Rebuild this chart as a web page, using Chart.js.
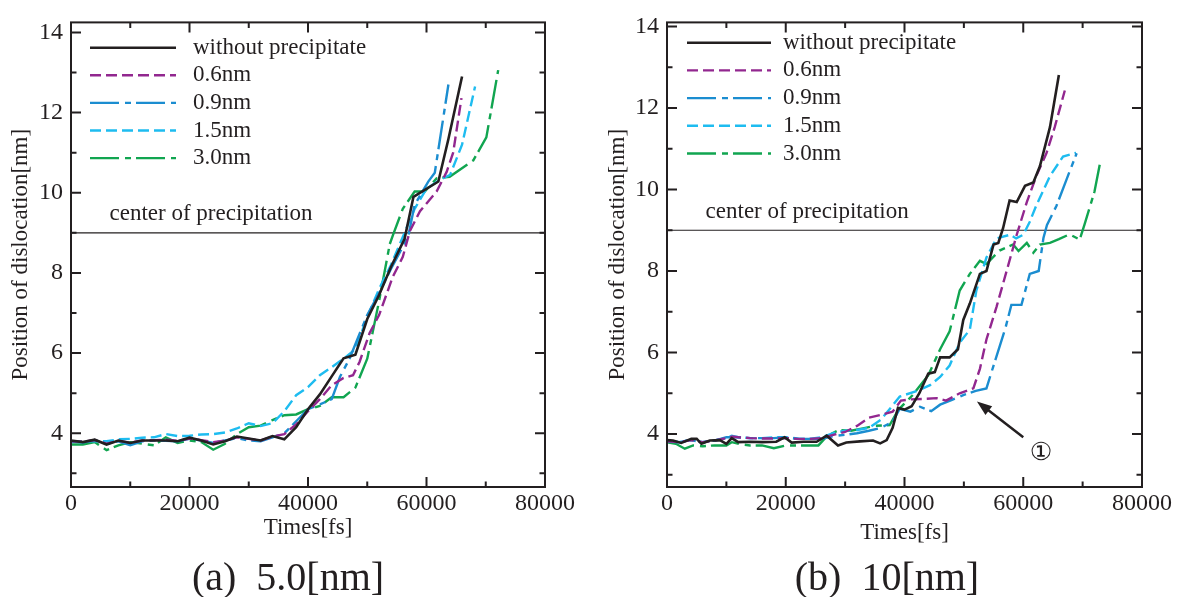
<!DOCTYPE html>
<html>
<head>
<meta charset="utf-8">
<title>Position of dislocation</title>
<script src="https://cdn.jsdelivr.net/npm/chart.js@4.4.1/dist/chart.umd.min.js"></script>
<style>
    body { margin: 0; background: #fff; width: 1181px; height: 597px; overflow: hidden; position: relative; }
    .panel { position: absolute; top: 0; height: 597px; }
    #panelA { left: 0; width: 590px; }
    #panelB { left: 590px; width: 591px; }
    .caption {
        position: absolute; top: 555px; line-height: 44px; font-size: 40px;
        font-family: "Liberation Serif", serif; color: #231f20;
        white-space: pre; transform: translateX(-50%);
    }
</style>
</head>
<body>
<div class="panel" id="panelA"><canvas id="chartA" width="590" height="597"></canvas></div>
<div class="panel" id="panelB"><canvas id="chartB" width="591" height="597"></canvas></div>
<div class="caption" style="left:288px">(a)  5.0[nm]</div>
<div class="caption" style="left:887px">(b)  10[nm]</div>

<script>
// 공통 데이터
const seriesNames = ['without precipitate', '0.6nm', '0.9nm', '1.5nm', '3.0nm'];
const timeTicks = [0, 20000, 40000, 60000, 80000];
const positionTicks = [4, 6, 8, 10, 12, 14];
const centerOfPrecipitation = 9;
const centerLabel = 'center of precipitation';

// (a) 5.0nm  [time(fs), position(nm)]
const blackA = [[0,3.82],[2000,3.78],[4000,3.84],[6000,3.72],[8000,3.82],[10000,3.76],[12000,3.82],[14000,3.82],[16000,3.82],[18000,3.80],[20000,3.89],[22000,3.82],[24000,3.72],[26000,3.80],[28000,3.92],[30000,3.87],[32000,3.82],[34000,3.93],[36000,3.85],[38000,4.15],[40000,4.6],[42000,4.97],[44000,5.42],[46000,5.87],[48000,5.96],[50000,6.85],[52000,7.45],[54000,8.15],[56300,8.85],[57800,9.9],[62000,10.28],[63700,11.34],[66000,12.9]];
const purpleA = [[0,3.80],[2000,3.79],[4000,3.83],[6000,3.74],[8000,3.81],[10000,3.77],[12000,3.82],[14000,3.83],[16000,3.84],[18000,3.81],[20000,3.87],[22000,3.83],[24000,3.78],[26000,3.82],[28000,3.90],[30000,3.86],[32000,3.82],[34000,3.92],[36000,3.98],[38000,4.22],[40000,4.55],[42000,4.85],[44000,5.2],[46000,5.38],[47600,5.45],[48700,5.78],[50400,6.5],[52000,6.95],[54300,7.9],[56000,8.4],[57200,9.05],[58900,9.54],[61700,10.03],[63400,10.52],[64500,11.0],[65900,12.36]];
const blueA = [[0,3.80],[2000,3.77],[4000,3.83],[6000,3.74],[8000,3.80],[10000,3.70],[12000,3.80],[14000,3.82],[16000,3.81],[18000,3.80],[20000,3.86],[22000,3.82],[24000,3.76],[26000,3.82],[28000,3.88],[30000,3.82],[32000,3.80],[34000,3.90],[36000,4.0],[38000,4.3],[40000,4.6],[42000,4.72],[44000,4.85],[45400,5.41],[47000,5.86],[50000,6.95],[52000,7.5],[54000,8.1],[56900,8.9],[58000,9.7],[60300,10.28],[61400,10.5],[63700,12.7]];
const cyanA = [[0,3.78],[2000,3.80],[4000,3.80],[6000,3.80],[8000,3.85],[10000,3.86],[12000,3.89],[14000,3.90],[16000,3.98],[18000,3.93],[20000,3.94],[22000,3.97],[24000,3.98],[26000,4.02],[28000,4.12],[30000,4.25],[32000,4.18],[34000,4.25],[36000,4.55],[38000,4.95],[40000,5.15],[42000,5.45],[44000,5.65],[46000,5.86],[48000,6.1],[50000,6.9],[52000,7.6],[54000,8.2],[56000,8.9],[58000,9.6],[60000,10.1],[62000,10.3],[64000,10.45],[66000,11.2],[68200,12.65]];
const greenA = [[0,3.72],[2000,3.72],[4000,3.78],[6000,3.58],[8000,3.70],[10000,3.78],[12000,3.74],[14000,3.70],[16000,3.90],[18000,3.76],[20000,3.82],[22000,3.78],[24000,3.59],[26000,3.74],[28000,3.98],[30000,4.15],[32000,4.19],[34000,4.33],[36000,4.45],[38000,4.47],[40000,4.6],[42000,4.68],[44000,4.9],[46000,4.9],[48000,5.14],[50000,5.86],[52000,7.3],[53800,8.72],[54400,8.97],[56000,9.6],[58000,10.03],[59700,10.03],[61700,10.36],[63900,10.4],[67900,10.81],[70100,11.38],[72100,13.06]];

// (b) 10nm
const blackB = [[0,3.85],[1000,3.84],[2400,3.78],[4100,3.88],[5000,3.88],[5800,3.76],[7200,3.84],[8900,3.85],[10000,3.76],[10900,3.90],[12000,3.80],[14000,3.81],[16000,3.80],[18400,3.81],[19800,3.92],[21000,3.79],[23000,3.81],[25200,3.81],[26900,3.96],[28800,3.72],[30200,3.79],[32500,3.82],[34700,3.84],[35900,3.77],[37000,3.85],[38000,4.15],[38900,4.64],[40000,4.6],[41200,4.68],[42500,5.0],[44000,5.48],[45100,5.52],[46000,5.88],[47600,5.88],[49000,6.08],[49900,6.8],[51000,7.2],[52700,7.93],[53800,8.0],[55000,8.65],[55800,8.69],[56600,9.05],[57700,9.73],[58900,9.69],[60300,10.09],[61700,10.17],[62800,10.57],[64500,11.53],[66000,12.81]];
const purpleB = [[0,3.82],[2000,3.80],[4000,3.85],[6000,3.80],[8000,3.84],[10000,3.90],[11000,3.94],[12000,3.92],[14000,3.90],[16000,3.89],[18000,3.89],[20000,3.90],[22000,3.88],[24000,3.88],[26000,3.90],[28000,3.98],[30000,4.05],[32000,4.2],[34000,4.4],[36000,4.47],[38000,4.55],[39400,4.82],[41000,4.85],[43000,4.86],[45400,4.88],[47000,4.82],[49300,5.0],[51600,5.12],[52700,5.6],[53800,6.32],[55500,7.12],[57200,8.0],[58900,8.89],[60600,9.69],[62200,10.33],[63900,10.89],[65300,11.53],[67000,12.43]];
const blueB = [[0,3.82],[2000,3.80],[4000,3.85],[6000,3.80],[8000,3.84],[10000,3.92],[12000,3.92],[14000,3.90],[16000,3.90],[18000,3.90],[20000,3.92],[22000,3.88],[24000,3.88],[26000,3.88],[28000,3.95],[30000,3.98],[32000,4.02],[34000,4.08],[36000,4.15],[38000,4.3],[39200,4.62],[41000,4.55],[42600,4.67],[44500,4.56],[46000,4.72],[48000,4.84],[50000,4.96],[52000,5.06],[53800,5.12],[55000,5.68],[57000,6.6],[58000,7.17],[59700,7.17],[61100,7.93],[62600,8.0],[63400,8.81],[64000,9.13],[65600,9.6],[67300,10.25],[69000,10.89]];
const cyanB = [[0,3.84],[2000,3.80],[4000,3.86],[6000,3.80],[8000,3.84],[10000,3.90],[10900,3.96],[12000,3.92],[14000,3.90],[16000,3.90],[18000,3.92],[20000,3.92],[22000,3.89],[24000,3.88],[26000,3.92],[28000,4.02],[30000,4.08],[32000,4.10],[34000,4.15],[36000,4.35],[38000,4.7],[39200,4.92],[42000,5.05],[44300,5.2],[46000,5.4],[47600,5.68],[49300,6.24],[51000,6.56],[52100,7.52],[53800,8.33],[55500,8.8],[57800,8.89],[58800,8.8],[60000,8.89],[61100,9.21],[62200,9.61],[64500,10.33],[66700,10.81],[68900,10.9]];
const greenB = [[0,3.80],[1500,3.76],[3000,3.64],[4400,3.72],[6000,3.70],[8000,3.72],[10000,3.72],[10900,3.80],[12800,3.74],[14000,3.72],[16000,3.72],[18000,3.65],[20000,3.72],[22000,3.72],[24000,3.72],[25500,3.72],[27000,3.96],[29000,4.1],[31000,4.08],[33000,4.14],[35000,4.2],[37500,4.22],[39000,4.6],[41400,4.96],[44000,5.44],[46000,6.08],[47600,6.52],[49300,7.52],[51000,7.93],[52700,8.25],[53800,8.17],[56000,8.5],[58300,8.65],[59200,8.49],[60600,8.69],[61700,8.45],[62800,8.65],[64500,8.69],[66000,8.78],[67800,8.9],[69500,8.77],[70300,9.13],[72000,9.95],[73000,10.7]];

// ① 화살표 (시작점 → 끝점, 라벨 위치)
const arrowFromB = [60000, 3.92];
const arrowToB = [52200, 4.8];
const arrowLabelB = ['①', 63000, 3.52];

const INK = '#231f20';
const SERIF = '"Liberation Serif", "Times New Roman", serif';
const lineStyles = [
    { color: INK, dash: [], width: 2.6 },
    { color: '#92278f', dash: [11, 5], width: 2.4 },
    { color: '#1b8dd0', dash: [29, 6, 6, 5], width: 2.4 },
    { color: '#1ebcf0', dash: [11, 5], width: 2.4 },
    { color: '#11a550', dash: [29, 6, 6, 5], width: 2.4 }
];

function toPoints(arr) {
    return arr.map(([x, y]) => ({ x, y }));
}

// 테두리, 안쪽 눈금, 범례, 주석 그리기
const framePlugin = {
    id: 'frame',
    afterDatasetsDraw(chart, args, opts) {
        const { ctx, chartArea: a, scales: { x, y } } = chart;
        ctx.save();
        ctx.strokeStyle = INK;
        ctx.fillStyle = INK;
        ctx.lineWidth = 2;
        ctx.setLineDash([]);
        ctx.beginPath();
        for (let t = 0; t <= 80000; t += 10000) {
            const px = x.getPixelForValue(t);
            const len = t % 20000 === 0 ? 10 : 5.5;
            ctx.moveTo(px, a.bottom); ctx.lineTo(px, a.bottom - len);
            ctx.moveTo(px, a.top); ctx.lineTo(px, a.top + len);
        }
        for (let v = 3; v <= 14; v++) {
            const py = y.getPixelForValue(v);
            const len = v % 2 === 0 ? 10 : 5.5;
            ctx.moveTo(a.left, py); ctx.lineTo(a.left + len, py);
            ctx.moveTo(a.right, py); ctx.lineTo(a.right - len, py);
        }
        ctx.stroke();
        ctx.strokeRect(a.left, a.top, a.right - a.left, a.bottom - a.top);

        // 범례
        ctx.font = '23px ' + SERIF;
        ctx.textBaseline = 'middle';
        ctx.textAlign = 'left';
        chart.data.datasets.forEach(ds => {
            if (ds.legendRow === undefined) return;
            const ry = a.top + opts.legendTop + ds.legendRow * opts.legendStep;
            ctx.strokeStyle = ds.borderColor;
            ctx.lineWidth = ds.borderWidth;
            ctx.setLineDash(ds.borderDash);
            ctx.beginPath();
            ctx.moveTo(a.left + opts.legendX0, ry);
            ctx.lineTo(a.left + opts.legendX1, ry);
            ctx.stroke();
            ctx.fillText(ds.label, a.left + opts.legendText, ry);
        });
        ctx.setLineDash([]);

        // 석출물 중심 라벨
        ctx.fillText(centerLabel, x.getPixelForValue(6500), y.getPixelForValue(centerOfPrecipitation + 0.46));

        // 화살표
        if (opts.arrow) {
            const [fx, fy] = opts.arrow.from;
            const [tx, ty] = opts.arrow.to;
            const x0 = x.getPixelForValue(fx), y0 = y.getPixelForValue(fy);
            const x1 = x.getPixelForValue(tx), y1 = y.getPixelForValue(ty);
            const ang = Math.atan2(y1 - y0, x1 - x0);
            ctx.strokeStyle = INK;
            ctx.lineWidth = 2.5;
            ctx.beginPath();
            ctx.moveTo(x0, y0);
            ctx.lineTo(x1 - 10 * Math.cos(ang), y1 - 10 * Math.sin(ang));
            ctx.stroke();
            ctx.beginPath();
            ctx.moveTo(x1, y1);
            ctx.lineTo(x1 - 15 * Math.cos(ang) + 5.5 * Math.sin(ang), y1 - 15 * Math.sin(ang) - 5.5 * Math.cos(ang));
            ctx.lineTo(x1 - 15 * Math.cos(ang) - 5.5 * Math.sin(ang), y1 - 15 * Math.sin(ang) + 5.5 * Math.cos(ang));
            ctx.closePath();
            ctx.fill();
            const [txt, lx, ly] = opts.arrow.label;
            ctx.font = '25px "DejaVu Sans", sans-serif';
            ctx.textAlign = 'center';
            ctx.fillText(txt, x.getPixelForValue(lx), y.getPixelForValue(ly));
        }
        ctx.restore();
    }
};

function makeChart(id, series, cfg) {
    const datasets = series.map((arr, i) => ({
        label: seriesNames[i],
        data: toPoints(arr),
        borderColor: lineStyles[i].color,
        borderDash: lineStyles[i].dash,
        borderWidth: lineStyles[i].width,
        legendRow: i
    }));
    datasets.push({
        label: centerLabel,
        data: toPoints([[0, centerOfPrecipitation], [80000, centerOfPrecipitation]]),
        borderColor: INK,
        borderWidth: 1.2
    });

    new Chart(document.getElementById(id), {
        type: 'line',
        data: { datasets },
        options: {
            responsive: false,
            animation: false,
            devicePixelRatio: 1,
            layout: { padding: { top: cfg.padTop, right: cfg.padRight, left: 0, bottom: 50 } },
            elements: { point: { radius: 0 }, line: { tension: 0, fill: false } },
            plugins: {
                legend: { display: false },
                tooltip: { enabled: false },
                frame: cfg.frame
            },
            scales: {
                x: {
                    type: 'linear', min: 0, max: 80000,
                    grid: { display: false, drawTicks: false },
                    border: { display: false },
                    ticks: { color: INK, font: { family: SERIF, size: 24 }, padding: 2, autoSkip: false, maxRotation: 0, callback: v => String(v) },
                    afterBuildTicks: s => { s.ticks = timeTicks.map(v => ({ value: v })); },
                    afterFit: s => { s.height = 60; },
                    title: { display: true, text: 'Times[fs]', color: INK, font: { family: SERIF, size: 23 }, padding: { top: 0, bottom: cfg.xTitlePad } }
                },
                y: {
                    type: 'linear', min: cfg.yMin, max: cfg.yMax,
                    grid: { display: false, drawTicks: false },
                    border: { display: false },
                    ticks: { color: INK, font: { family: SERIF, size: 24 }, padding: 8, callback: v => String(v) },
                    afterBuildTicks: s => { s.ticks = positionTicks.map(v => ({ value: v })); },
                    afterFit: s => { s.width = cfg.yWidth; },
                    title: { display: true, text: 'Position of dislocation[nm]', color: INK, font: { family: SERIF, size: 23 }, padding: { top: cfg.yTitlePad, bottom: 0 } }
                }
            }
        },
        plugins: [framePlugin]
    });
}

document.addEventListener('DOMContentLoaded', function() {
    makeChart('chartA', [blackA, purpleA, blueA, cyanA, greenA], {
        yMin: 2.66, yMax: 14.25, yWidth: 71, padTop: 15, padRight: 45,
        xTitlePad: 5, yTitlePad: 7,
        frame: { legendTop: 25.3, legendStep: 27.6, legendX0: 19, legendX1: 105, legendText: 122 }
    });
    makeChart('chartB', [blackB, purpleB, blueB, cyanB, greenB], {
        yMin: 2.70, yMax: 14.10, yWidth: 77, padTop: 13, padRight: 39,
        xTitlePad: 0, yTitlePad: 14,
        frame: {
            legendTop: 20.3, legendStep: 27.7, legendX0: 20, legendX1: 104, legendText: 116,
            arrow: { from: arrowFromB, to: arrowToB, label: arrowLabelB }
        }
    });
});
</script>
</body>
</html>
